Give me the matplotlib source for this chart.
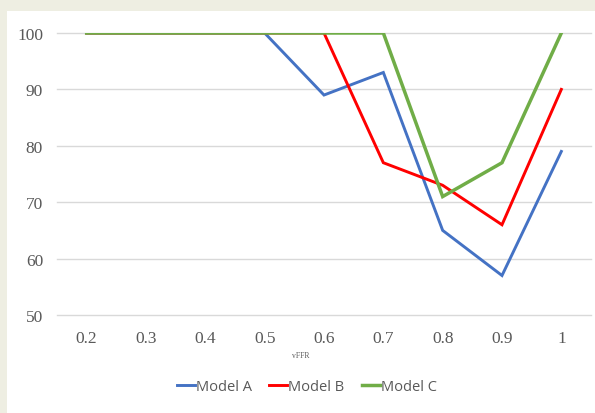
import matplotlib
matplotlib.use("Agg")
import matplotlib.pyplot as plt
from matplotlib.patches import Rectangle

# data
vffr = ["0.2", "0.3", "0.4", "0.5", "0.6", "0.7", "0.8", "0.9", "1"]
model_a = [100, 100, 100, 100, 89, 93, 65, 57, 79]
model_b = [100, 100, 100, 100, 100, 77, 73, 66, 90]
model_c = [100, 100, 100, 100, 100, 100, 71, 77, 100]

fig = plt.figure(figsize=(5.95, 4.14), dpi=100, facecolor="#EEEEE2")
# white chart panel inside the beige frame
fig.patches.append(Rectangle((7 / 595, 0), 1, 1 - 12 / 414, transform=fig.transFigure,
                             facecolor="white", edgecolor="none", zorder=-10))

ax = fig.add_axes([57 / 595, 1 - 316 / 414, (591 - 57) / 595, (316 - 34) / 414])
ax.set_facecolor("none")

x = list(range(len(vffr)))
ax.plot(x, model_a, color="#4472C4", lw=2.1, label="Model A", solid_joinstyle="miter")
ax.plot(x, model_b, color="#FF0000", lw=2.1, label="Model B", solid_joinstyle="miter")
# slightly wider so it fully hides the others where they overlap at 100
ax.plot(x, model_c, color="#70AD47", lw=2.5, label="Model C", solid_joinstyle="miter")

ax.set_xlim(-0.5, len(vffr) - 0.5)
ax.set_ylim(50, 100)
ax.set_yticks(range(50, 101, 10))
ax.set_xticks(x)
ax.set_xticklabels(vffr)
ax.grid(axis="y", color="#D9D9D9", lw=1)
for g in ax.get_ygridlines():
    g.set_clip_on(False)
ax.set_axisbelow(True)
for s in ax.spines.values():
    s.set_visible(False)
ax.tick_params(length=0, labelsize=12.5, labelcolor="#595959")
ax.tick_params(axis="y", pad=10)
ax.tick_params(axis="x", pad=11)
for lab in ax.get_xticklabels() + ax.get_yticklabels():
    lab.set_family("Liberation Serif")

fig.text(301 / 595, 1 - 356 / 414, "vFFR", ha="center", va="center",
         fontsize=5.5, color="#595959", family="Liberation Serif")

leg = fig.legend(loc="center", bbox_to_anchor=(307 / 595, 1 - 388 / 414), ncol=3,
                 frameon=False, handlelength=1.2, handletextpad=0.1, columnspacing=1.2,
                 prop={"family": "Open Sans", "size": 10.5})
for t in leg.get_texts():
    t.set_color("#595959")

fig.savefig("out.png", dpi=100, facecolor=fig.get_facecolor())
